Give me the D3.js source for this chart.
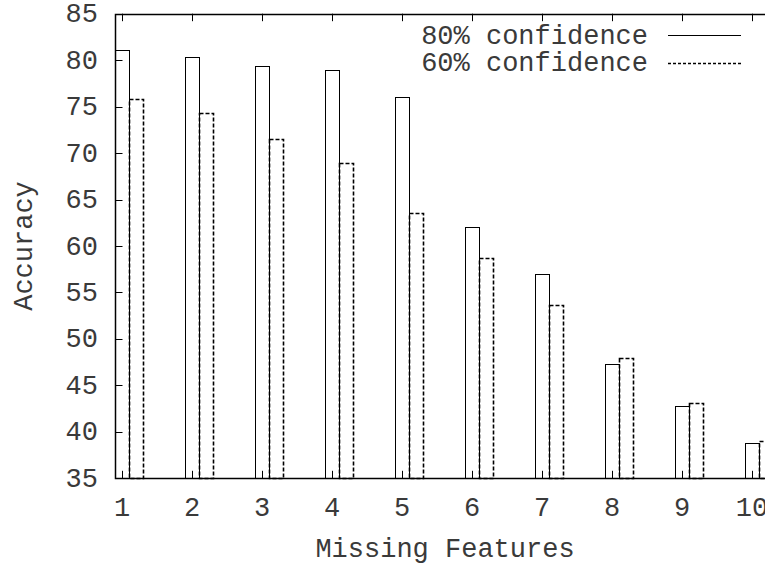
<!DOCTYPE html>
<html><head><meta charset="utf-8">
<script src="https://cdn.jsdelivr.net/npm/d3@7"></script>
<style>
html,body{margin:0;padding:0;background:#fff;}
svg{display:block;}
text{font-family:"Liberation Mono","DejaVu Sans Mono",monospace;font-size:27px;fill:#3a3a3a;}
</style></head>
<body>
<script>
const categories = [1,2,3,4,5,6,7,8,9,10];
const conf80 = [81.1, 80.3, 79.4, 78.95, 76.0, 62.05, 57.0, 47.3, 42.8, 38.8];
const conf60 = [75.8, 74.3, 71.55, 68.9, 63.5, 58.7, 53.7, 47.9, 43.1, 39.0];
const yTicks = [35,40,45,50,55,60,65,70,75,80,85];
const seriesNames = ["80% confidence", "60% confidence"];

const W = 765, H = 567;
const svg = d3.select("body").append("svg").attr("width", W).attr("height", H);

const x = d3.scaleLinear().domain([0.9, 10.3]).range([115, 773]);
const y = d3.scaleLinear().domain([35, 85]).range([478.3, 13.7]);
const barW = 0.2;

const g = svg.append("g");

// ticks
const tickLen = 7.5;
g.selectAll(".yt").data(yTicks).enter().append("line")
  .attr("x1", x(0.9)).attr("x2", x(0.9) + tickLen)
  .attr("y1", d => Math.round(y(d)) + 0.5).attr("y2", d => Math.round(y(d)) + 0.5)
  .attr("stroke", "#000").attr("stroke-width", 1);
g.selectAll(".xtb").data(categories).enter().append("line")
  .attr("x1", d => Math.round(x(d)) + 0.5).attr("x2", d => Math.round(x(d)) + 0.5)
  .attr("y1", y(35)).attr("y2", y(35) - tickLen)
  .attr("stroke", "#000").attr("stroke-width", 1);
g.selectAll(".xtt").data(categories).enter().append("line")
  .attr("x1", d => Math.round(x(d)) + 0.5).attr("x2", d => Math.round(x(d)) + 0.5)
  .attr("y1", y(85)).attr("y2", y(85) + tickLen)
  .attr("stroke", "#000").attr("stroke-width", 1);

// bars
const px = v => Math.round(v) + 0.5;
g.selectAll(".b80").data(categories).enter().append("rect")
  .attr("x", d => px(x(d - barW/2)))
  .attr("width", d => Math.round(x(d + barW/2)) - Math.round(x(d - barW/2)))
  .attr("y", (d,i) => px(y(conf80[i])))
  .attr("height", (d,i) => Math.round(y(35)) - Math.round(y(conf80[i])))
  .attr("fill", "none").attr("stroke", "#000").attr("stroke-width", 1);
g.selectAll(".b60").data(categories).enter().append("rect")
  .attr("x", d => px(x(d + barW/2)))
  .attr("width", d => Math.round(x(d + 1.5*barW)) - Math.round(x(d + barW/2)))
  .attr("y", (d,i) => px(y(conf60[i])))
  .attr("height", (d,i) => Math.round(y(35)) - Math.round(y(conf60[i])))
  .attr("fill", "none").attr("stroke", "#000").attr("stroke-width", 1.6)
  .attr("stroke-dasharray", "4,2");

// border (left, bottom, top)
const L = x(0.9), R = x(10.3), T = y(85), B = y(35);
g.append("path")
  .attr("d", `M${R},${px(T)}H${px(L)}V${px(B)}H${R}`)
  .attr("fill", "none").attr("stroke", "#000").attr("stroke-width", 1.5);

// tick labels
g.selectAll(".ytl").data(yTicks).enter().append("text")
  .attr("x", 98).attr("y", d => y(d) + 8.5)
  .attr("text-anchor", "end").text(d => d);
g.selectAll(".xtl").data(categories).enter().append("text")
  .attr("x", d => x(d)).attr("y", 516)
  .attr("text-anchor", "middle").text(d => d);

// axis titles
svg.append("text").attr("x", 445).attr("y", 557).attr("text-anchor", "middle").text("Missing Features");
svg.append("text").attr("transform", "translate(32,246) rotate(-90)").attr("text-anchor", "middle").text("Accuracy");

// legend
const leg = svg.append("g");
seriesNames.forEach((name, i) => {
  const ly = 35 + i * 27.5;
  leg.append("text").attr("x", 648).attr("y", ly + 8.5).attr("text-anchor", "end").text(name);
  leg.append("line").attr("x1", 668).attr("x2", 741).attr("y1", Math.round(ly) + 0.5).attr("y2", Math.round(ly) + 0.5)
    .attr("stroke", "#000").attr("stroke-width", i === 0 ? 1 : 1.5)
    .attr("stroke-dasharray", i === 0 ? null : "3,2");
});
</script>
</body></html>
